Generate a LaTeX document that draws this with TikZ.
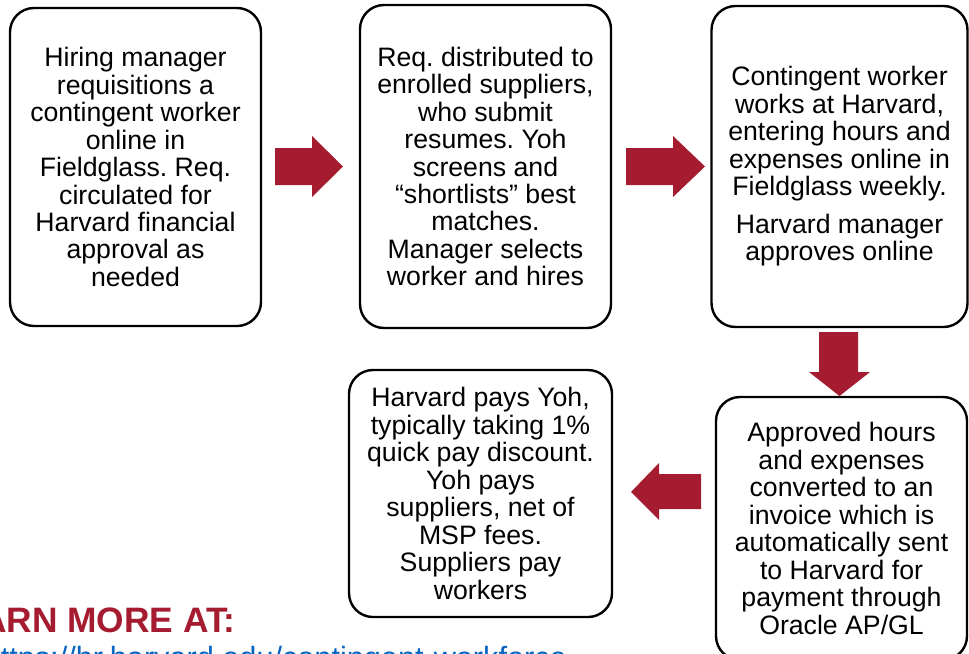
\documentclass[tikz,border=0pt]{standalone}
\usepackage{fontspec}
\setmainfont{Liberation Sans}
\frenchspacing
\definecolor{crimson}{RGB}{165,28,48}
\definecolor{linkblue}{RGB}{5,99,193}
\tikzset{
  stepbox/.style={draw=black, line width=1.8pt, rounded corners=18pt, fill=white,
    align=center, inner sep=0pt,
    font=\fontsize{20pt}{20.6pt}\selectfont},
  blockarrow/.style={fill=crimson, draw=none}
}
\begin{document}
\begin{tikzpicture}[x=0.75pt,y=-0.75pt]
  \clip (0,0) rectangle (969,653);
  \fill[white] (0,0) rectangle (969,653);

  % process steps
  \node[stepbox, minimum width=188.25pt, minimum height=238.5pt] (req) at (135.5,167)
    {Hiring manager\\requisitions a\\contingent worker\\online in\\Fieldglass. Req.\\circulated for\\Harvard financial\\approval as\\needed};
  \node[stepbox, minimum width=188.25pt, minimum height=242.25pt] (dist) at (485.5,166.5)
    {Req. distributed to\\enrolled suppliers,\\who submit\\resumes. Yoh\\screens and\\“shortlists” best\\matches.\\Manager selects\\worker and hires};
  \node[stepbox, minimum width=192pt, minimum height=240.75pt] (work) at (839.5,166.5)
    {Contingent worker\\works at Harvard,\\entering hours and\\expenses online in\\Fieldglass weekly.\\[7.5pt]Harvard manager\\approves online};
  \node[stepbox, minimum width=188.25pt, minimum height=197.25pt] (inv) at (841.5,528.5)
    {Approved hours\\and expenses\\converted to an\\invoice which is\\automatically sent\\to Harvard for\\payment through\\Oracle AP/GL};
  \node[stepbox, minimum width=197.25pt, minimum height=185.25pt] (pay) at (480.5,493.5)
    {Harvard pays Yoh,\\typically taking 1\%\\quick pay discount.\\Yoh pays\\suppliers, net of\\MSP fees.\\Suppliers pay\\workers};

  % block arrows between the steps
  \fill[blockarrow] (275,148) -- (312,148) -- (312,136) -- (343,166.5)
    -- (312,197) -- (312,185) -- (275,185) -- cycle;
  \fill[blockarrow] (626,148) -- (673,148) -- (673,136) -- (705,166.5)
    -- (673,197) -- (673,185) -- (626,185) -- cycle;
  \fill[blockarrow] (819,332) -- (858,332) -- (858,372) -- (870,372)
    -- (839.5,396) -- (809,372) -- (819,372) -- cycle;
  \fill[blockarrow] (701,474) -- (659,474) -- (659,463) -- (631,492)
    -- (659,520) -- (659,509) -- (701,509) -- cycle;

  % footer
  \node[anchor=base east, inner sep=0pt, text=crimson,
        font=\fontsize{26.5pt}{30pt}\selectfont\bfseries] (learn) at (236,632)
    {LEARN MORE AT:};
  \node[anchor=base east, inner sep=0pt, text=linkblue,
        font=\fontsize{23pt}{27pt}\selectfont] (url) at (567,668)
    {https://hr.harvard.edu/contingent-workforce};
\end{tikzpicture}
\end{document}
